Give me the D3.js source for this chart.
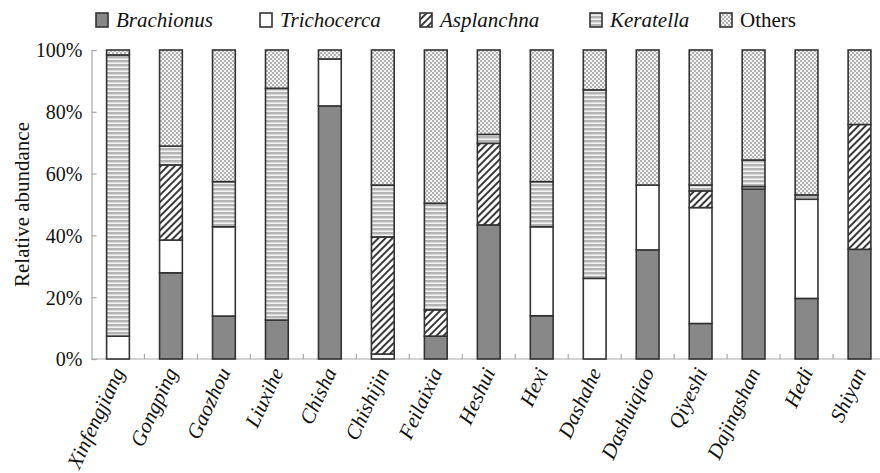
<!DOCTYPE html>
<html>
<head>
<meta charset="utf-8">
<script src="https://cdn.jsdelivr.net/npm/d3@7"></script>
<style>
  html, body { margin: 0; padding: 0; background: #fff; }
  #chart text { font-family: "Liberation Serif" !important; }
</style>
</head>
<body>
<svg id="chart" width="880" height="473" font-family="Liberation Serif"></svg>
<script>
// Rotifer community composition by sampling site (relative abundance, %)
const sites = ["Xinfengjiang", "Gongping", "Gaozhou", "Liuxihe", "Chisha", "Chishijin", "Feilaixia",
  "Heshui", "Hexi", "Dashahe", "Dashuiqiao", "Qiyeshi", "Dajingshan", "Hedi", "Shiyan"];
const taxa = ["Brachionus", "Trichocerca", "Asplanchna", "Keratella", "Others"];
const brachionus  = [0, 27.9, 13.9, 12.6, 81.9, 0, 7.4, 43.4, 14.0, 0, 35.3, 11.5, 55.0, 19.6, 35.5];
const trichocerca = [7.4, 10.6, 28.9, 0, 15.2, 1.6, 0, 0, 28.8, 26.1, 21.0, 37.5, 0.8, 32.1, 0];
const asplanchna  = [0, 24.3, 0, 0, 0, 37.9, 8.5, 26.4, 0, 0, 0, 5.4, 0, 0, 40.4];
const keratella   = [91.0, 6.1, 14.6, 75.0, 0, 16.8, 34.5, 2.9, 14.6, 61.0, 0, 1.9, 8.6, 1.4, 0];
const others      = [1.6, 31.1, 42.6, 12.4, 2.9, 43.7, 49.6, 27.3, 42.6, 12.9, 43.7, 43.7, 35.6, 46.9, 24.1];
const yTicks = [0, 20, 40, 60, 80, 100];

const FONT = '"Liberation Serif"';

// apply the serif face to a text selection
function serif(sel) {
  sel.attr("font-family", "Liberation Serif")
    .style("font-family", FONT, "important");
  return sel;
}

const table = sites.map((s, i) => ({
  site: s,
  Brachionus: brachionus[i],
  Trichocerca: trichocerca[i],
  Asplanchna: asplanchna[i],
  Keratella: keratella[i],
  Others: others[i]
}));

const svg = d3.select("#chart");
const x = d3.scaleBand().domain(sites).range([91.5, 886]).paddingInner(0.57).paddingOuter(0.285);
const y = d3.scaleLinear().domain([0, 100]).range([359, 50]);

// fill patterns
const defs = svg.append("defs");
// diagonal hatching
const pA = defs.append("pattern").attr("id", "pat-asp").attr("patternUnits", "userSpaceOnUse")
  .attr("width", 5).attr("height", 5).attr("patternTransform", "rotate(45)");
pA.append("rect").attr("width", 5).attr("height", 5).attr("fill", "#fff");
pA.append("rect").attr("x", 0).attr("width", 2).attr("height", 5).attr("fill", "#3a3a3a");
// horizontal stripes
const pK = defs.append("pattern").attr("id", "pat-ker").attr("patternUnits", "userSpaceOnUse")
  .attr("width", 4).attr("height", 4);
pK.append("rect").attr("width", 4).attr("height", 4).attr("fill", "#f2f2f2");
pK.append("rect").attr("y", 0).attr("width", 4).attr("height", 2.4).attr("fill", "#b4b4b4");
// checker
const pO = defs.append("pattern").attr("id", "pat-oth").attr("patternUnits", "userSpaceOnUse")
  .attr("width", 4).attr("height", 4);
pO.append("rect").attr("width", 4).attr("height", 4).attr("fill", "#f4f4f4");
pO.append("rect").attr("width", 2).attr("height", 2).attr("fill", "#b0b0b0");
pO.append("rect").attr("x", 2).attr("y", 2).attr("width", 2).attr("height", 2).attr("fill", "#b0b0b0");

const fills = {
  Brachionus: "#888888",
  Trichocerca: "#ffffff",
  Asplanchna: "url(#pat-asp)",
  Keratella: "url(#pat-ker)",
  Others: "url(#pat-oth)"
};

// axes
const xAxis = svg.append("g").attr("transform", `translate(0,${y(0)})`);
xAxis.append("line").attr("x1", 91.5).attr("x2", 880).attr("y1", 0).attr("y2", 0)
  .attr("stroke", "#a8a8a8").attr("stroke-width", 1.2);
xAxis.selectAll("line.tk").data(sites.slice(1)).join("line").attr("class", "tk")
  .attr("x1", d => x(d) - (x.step() - x.bandwidth()) / 2)
  .attr("x2", d => x(d) - (x.step() - x.bandwidth()) / 2)
  .attr("y1", 0).attr("y2", -5).attr("stroke", "#a8a8a8").attr("stroke-width", 1.2);

const yAxis = svg.append("g").attr("transform", "translate(91.5,0)")
  .call(d3.axisLeft(y).tickValues(yTicks).tickSize(-5).tickPadding(9).tickFormat(d => d + "%"));
yAxis.attr("font-family", "Liberation Serif").attr("font-size", 20);
yAxis.select(".domain").attr("stroke", "#a8a8a8").attr("stroke-width", 1.2);
yAxis.selectAll(".tick line").attr("stroke", "#a8a8a8").attr("stroke-width", 1.2);
yAxis.selectAll(".tick text").attr("font-size", 20).attr("fill", "#111").attr("dy", "0.34em")
  .call(serif);

svg.append("text").attr("transform", `translate(29,${y(50)}) rotate(-90)`)
  .attr("fill", "#111").attr("text-anchor", "middle").attr("font-size", 21)
  .text("Relative abundance").call(serif);

// stacked bars
const series = d3.stack().keys(taxa)(table);
svg.append("g").selectAll("g").data(series).join("g")
  .attr("fill", d => fills[d.key])
  .selectAll("rect").data(d => d.filter(s => s[1] - s[0] > 0)).join("rect")
  .attr("x", d => x(d.data.site))
  .attr("width", x.bandwidth())
  .attr("y", d => y(d[1]))
  .attr("height", d => y(d[0]) - y(d[1]))
  .attr("stroke", "#333")
  .attr("stroke-width", 1.6);

// site labels
svg.append("g").selectAll("text").data(sites).join("text")
  .attr("transform", d => `translate(${x(d) + x.bandwidth() / 2 + 7},372) rotate(-65)`)
  .attr("fill", "#111").attr("text-anchor", "end").attr("font-style", "italic").attr("font-size", 21)
  .text(d => d).call(serif);

// legend
const legendPos = [96, 260, 420, 590, 720];
svg.append("g").selectAll("rect").data(taxa).join("rect")
  .attr("x", (d, i) => legendPos[i]).attr("y", 13)
  .attr("width", 12).attr("height", 14).attr("fill", d => fills[d])
  .attr("stroke", "#333").attr("stroke-width", 1.6);
svg.append("g").selectAll("text").data(taxa).join("text")
  .attr("x", (d, i) => legendPos[i] + 20).attr("y", 27).attr("font-size", 21)
  .attr("fill", "#111")
  .attr("font-style", d => d === "Others" ? "normal" : "italic")
  .text(d => d).call(serif);
</script>
</body>
</html>
